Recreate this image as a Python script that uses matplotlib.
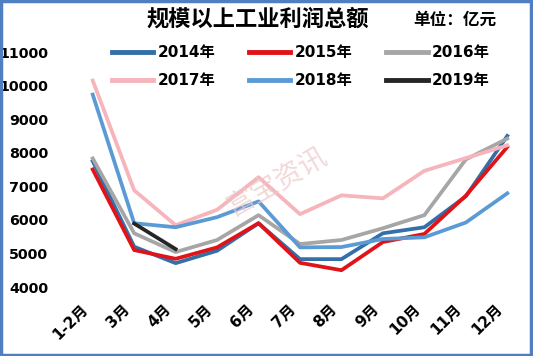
import matplotlib
matplotlib.use("Agg")
import matplotlib.pyplot as plt
from matplotlib.patches import Rectangle
import matplotlib.transforms as mtransforms

plt.rcParams['font.family'] = ['DejaVu Sans', 'Noto Sans CJK SC']

months = ["1-2月", "3月", "4月", "5月", "6月", "7月", "8月", "9月", "10月", "11月", "12月"]
y2014 = [7750, 5200, 4710, 5080, 5900, 4830, 4830, 5600, 5780, 6700, 8500]
y2015 = [7500, 5100, 4840, 5180, 5900, 4720, 4500, 5340, 5580, 6720, 8170]
y2016 = [7830, 5600, 5040, 5400, 6140, 5280, 5400, 5750, 6140, 7800, 8420]
y2017 = [10150, 6880, 5840, 6300, 7270, 6170, 6730, 6640, 7460, 7840, 8220]
y2018 = [9730, 5900, 5780, 6080, 6550, 5180, 5190, 5430, 5480, 5920, 6790]
y2019 = [5890, 5130]
series_names = ["2014年", "2015年", "2016年", "2017年", "2018年", "2019年"]
colors = ["#336FA8", "#E01418", "#A6A6A6", "#F6B4BB", "#5B9BD5", "#262626"]
yticks = [4000, 5000, 6000, 7000, 8000, 9000, 10000, 11000]

fig = plt.figure(figsize=(5.33, 3.56), dpi=100)
ax = fig.add_axes([72/533, 1-287/356, (528-72)/533, (287-52)/356])

x = list(range(len(months)))
data = [y2014, y2015, y2016, y2017, y2018]
handles = []
for i, (vals, name, c) in enumerate(zip(data, series_names[:5], colors[:5])):
    h, = ax.plot(x[:len(vals)], vals, color=c, lw=2.7, label=name, zorder=2+i)
    handles.append(h)
h, = ax.plot(x[1:1+len(y2019)], y2019, color=colors[5], lw=2.7, label=series_names[5], zorder=8)
handles.append(h)

ax.set_xlim(-0.5, len(months)-0.5)
ax.set_ylim(4000, 11000)
ax.set_yticks(yticks)
ax.set_yticklabels([str(v) for v in yticks], fontsize=10.3, fontweight='bold')
ax.set_xticks(x)
ax.set_xticklabels([])
ax.tick_params(axis='both', length=0)
ax.tick_params(axis='y', pad=17)
for s in ax.spines.values():
    s.set_visible(False)
ax.patch.set_alpha(0)

# rotated category labels
offset = mtransforms.ScaledTranslation(-12/100, -14/100, fig.dpi_scale_trans)
trans = mtransforms.blended_transform_factory(ax.transData, ax.transAxes) + offset
for xi, m in zip(x, months):
    ax.text(xi, 0, m, transform=trans, fontsize=11, fontweight='bold', rotation=45,
            ha='right', va='top', rotation_mode='anchor',
            family=['DejaVu Sans', 'Noto Sans CJK SC'])

# watermark
fig.text(0.52, 0.49, "富宝资讯", fontsize=20, color="#EBC9C9", alpha=0.7, rotation=30,
         ha='center', va='center', family=['Noto Sans CJK SC'], zorder=0)

order = [0, 3, 1, 4, 2, 5]
leg = ax.legend([handles[i] for i in order], [series_names[i] for i in order],
                ncol=3, loc='upper left', bbox_to_anchor=(112/533, 1-45/356),
                bbox_transform=fig.transFigure, frameon=False, prop={'size': 11, 'weight': 'bold'},
                handlelength=2.7, handletextpad=0.3, columnspacing=2.2,
                labelspacing=0.85, borderpad=0, borderaxespad=0)
for hh in leg.get_lines():
    hh.set_linewidth(3.5)

fig.text(258/533, 1-19/356, "规模以上工业利润总额", fontsize=16, fontweight='bold',
         ha='center', va='center', family=['Noto Sans CJK SC'])
fig.text(455/533, 1-20/356, "单位：亿元", fontsize=12, fontweight='bold',
         ha='center', va='center', family=['Noto Sans CJK SC'])

fig.patches.append(Rectangle((0.002, 0.003), 0.994, 0.993, transform=fig.transFigure,
                             fill=False, edgecolor="#4F7FC0", lw=2.5))

fig.savefig("out.png", dpi=100)
